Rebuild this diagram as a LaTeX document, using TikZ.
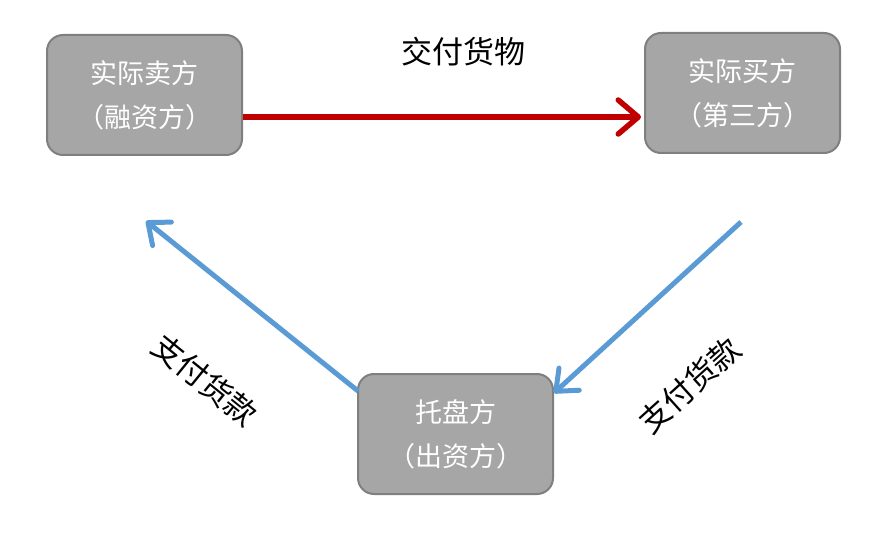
\documentclass[tikz,border=0pt]{standalone}
\usepackage{fontspec}
\setmainfont{Noto Sans CJK SC}
\usetikzlibrary{arrows.meta}
\definecolor{boxfill}{HTML}{A6A6A6}
\definecolor{boxline}{HTML}{7F7F7F}
\definecolor{redarr}{HTML}{C00000}
\definecolor{bluearr}{HTML}{5B9BD5}
\begin{document}
\begin{tikzpicture}[x=1pt,y=-1pt,
  party/.style={draw=boxline, line width=2pt, fill=boxfill, rounded corners=16pt,
    minimum width=195pt, minimum height=120pt, text=white, align=center,
    font=\fontsize{27}{44}\selectfont},
  redflow/.style={draw=redarr, line width=5.5pt, -{Straight Barb[length=20pt,width=34pt,round]}},
  blueflow/.style={draw=bluearr, line width=5pt, -{Straight Barb[length=18pt,width=30pt,round]}},
  lbl/.style={font=\fontsize{31}{34}\selectfont, text=black}]
\useasboundingbox (0,0) rectangle (883,537);
\node[party] (seller) at (144.5,95) {实际卖方\\（融资方）};
\node[party] (buyer) at (742.5,93) {实际买方\\（第三方）};
\node[party] (fin) at (455.5,434) {托盘方\\（出资方）};
\coordinate (redtip) at (641,117);
\coordinate (bluetipL) at (146,221);
\coordinate (bluestartR) at (741,222);
\coordinate (bluetipR) at (554,393);
\coordinate (bluestartL) at (358,391);
\draw[redflow] (seller.east |- redtip) -- (redtip);
\draw[blueflow] (bluestartL) -- (bluetipL);
\draw[blueflow] (bluestartR) -- (bluetipR);
\node[lbl] (goods) at (463,52) {交付货物};
\node[lbl, rotate=-39] (payL) at (205,380) {支付货款};
\node[lbl, rotate=42] (payR) at (690,385) {支付货款};
\end{tikzpicture}
\end{document}
